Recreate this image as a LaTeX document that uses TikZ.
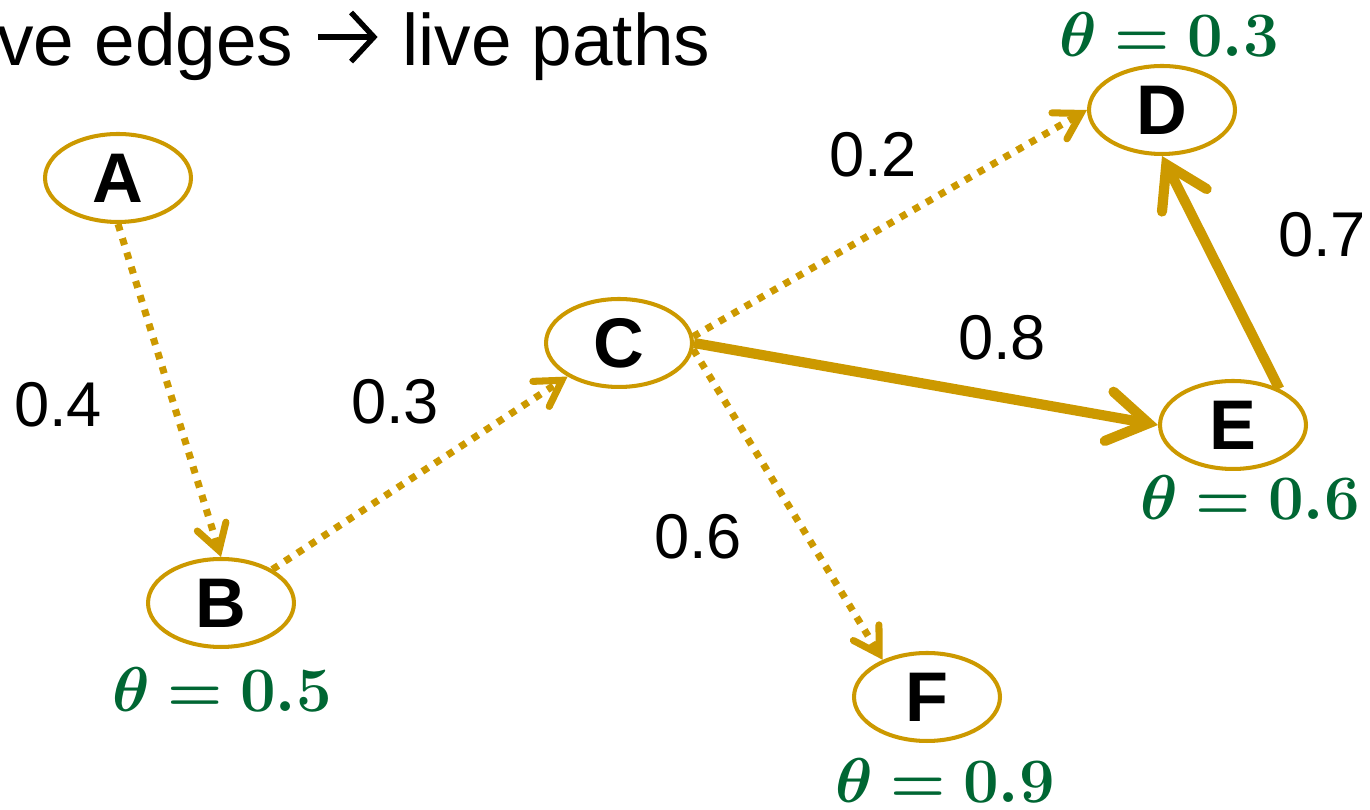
\RequirePackage{fix-cm}
\documentclass[tikz,border=0pt]{standalone}
\usepackage[no-math]{fontspec}
\setmainfont{Liberation Sans}
\usepackage{bm}
\usetikzlibrary{arrows.meta, shapes.geometric}
\definecolor{gold}{RGB}{204,153,0}
\definecolor{thetagreen}{RGB}{0,102,51}

\begin{document}
\begin{tikzpicture}[x=0.02cm, y=0.02cm,
		vertex/.style={ellipse, draw=gold, line width=2.3pt, minimum width=2.92cm, minimum height=1.76cm, inner sep=0pt, font=\fontsize{40}{40}\selectfont\bfseries},
		weight/.style={font=\fontsize{36}{36}\selectfont},
		theta/.style={text=thetagreen, font=\fontsize{36}{36}\selectfont},
		dotedge/.style={draw=gold, line width=4pt, dash pattern=on 4pt off 4.5pt, -{Straight Barb[length=0.5cm, width=0.6cm, line cap=round]}},
		liveedge/.style={draw=gold, line width=5.8pt, -{Straight Barb[length=0.8cm, width=1cm, line cap=round]}}]
	\useasboundingbox (0,0) rectangle (1370,810);
	
	% 1. 标题
	\node[anchor=west, inner sep=0pt, font=\fontsize{41.5}{41.5}\selectfont] (title) at (-3,765)
		{ve edges\hspace{0.3em}\tikz[baseline=0pt]\draw[line width=3.1pt, -{Straight Barb[length=13pt, width=28pt]}] (0pt,16pt) -- (34pt,16pt);\hspace{0.3em}live paths};
	
	% 2. 节点
	\node[vertex] (A) at (118,632) {A};
	\node[vertex] (B) at (221,207) {B};
	\node[vertex] (C) at (619,467) {C};
	\node[vertex] (D) at (1162,700) {D};
	\node[vertex] (E) at (1233,385) {E};
	\node[vertex] (F) at (927,113) {F};
	
	% 3. 阈值
	\node[theta] (thD) at (1169,775) {$\bm{\theta = 0.3}$};
	\node[theta] (thB) at (222,120) {$\bm{\theta = 0.5}$};
	\node[theta] (thE) at (1250,312) {$\bm{\theta = 0.6}$};
	\node[theta] (thF) at (945,29) {$\bm{\theta = 0.9}$};
	
	% 4. 边
	\draw[dotedge] (A.south) -- (B.north);
	\draw[dotedge] (B) -- (C);
	\draw[dotedge] (C.5) -- (D.west);
	\draw[dotedge] (C.-5) -- (F.140);
	\draw[liveedge] (C.east) -- (E.west);
	\draw[liveedge] (E.38) -- (D.south);
	
	% 5. 权重
	\node[weight] (wAB) at (58,405) {0.4};
	\node[weight] (wBC) at (395,408) {0.3};
	\node[weight] (wCD) at (873,655) {0.2};
	\node[weight] (wCE) at (1002,472) {0.8};
	\node[weight] (wED) at (1322,575) {0.7};
	\node[weight] (wCF) at (698,273) {0.6};
\end{tikzpicture}
\end{document}
